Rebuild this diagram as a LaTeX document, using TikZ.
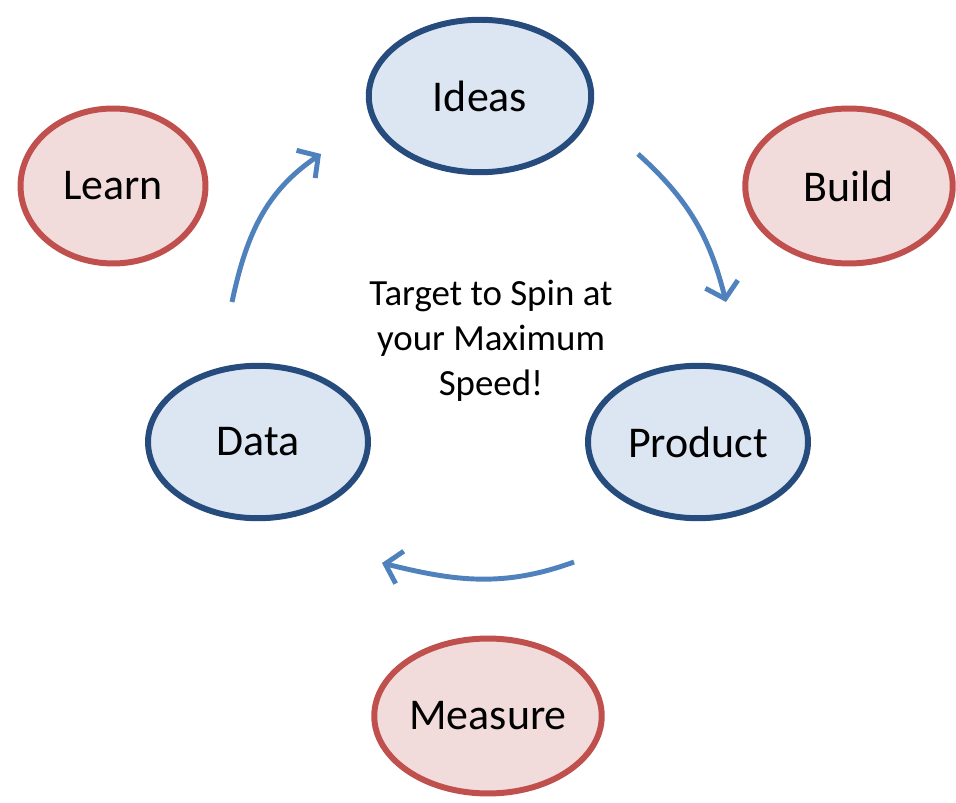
\documentclass[tikz,border=0pt]{standalone}
\usepackage{fontspec}
\setmainfont{Carlito}
\usetikzlibrary{shapes.geometric,arrows.meta}

\definecolor{coreFill}{RGB}{220,230,242}
\definecolor{coreLine}{RGB}{38,76,126}
\definecolor{loopFill}{RGB}{242,220,219}
\definecolor{loopLine}{RGB}{192,80,77}
\definecolor{spinBlue}{RGB}{79,129,189}

\tikzset{
    oval/.style={ellipse, line width=3.4pt, inner sep=0pt,
                 font=\fontsize{25}{30}\selectfont},
    coreoval/.style={oval, draw=coreLine, fill=coreFill},
    loopoval/.style={oval, draw=loopLine, fill=loopFill},
    spin/.style={draw=spinBlue, line width=2.8pt,
                 -{Straight Barb[length=8.5pt,width=19pt]}}
}

\begin{document}
\begin{tikzpicture}[x=0.02cm, y=-0.02cm]

    \useasboundingbox (0,0) rectangle (956,803);

    % the spinning loop
    \node[coreoval, minimum width=4.45cm, minimum height=3.05cm] (ideas) at (480,96) {Ideas};
    \node[coreoval, minimum width=4.4cm, minimum height=3.05cm] (product) at (698,442) {Product};
    \node[coreoval, minimum width=4.4cm, minimum height=3.05cm] (data) at (258,442) {Data};

    % the steps between
    \node[loopoval, minimum width=3.7cm, minimum height=3.1cm] (learn) at (113,186) {Learn};
    \node[loopoval, minimum width=4.15cm, minimum height=3.1cm] (build) at (849,186) {Build};
    \node[loopoval, minimum width=4.55cm, minimum height=3.1cm] (measure) at (488,716) {Measure};

    \node[align=center, font=\fontsize{21}{25.6}\selectfont] (target) at (491,341)
        {Target to Spin at\\your Maximum\\Speed!};

    % arrows
    \coordinate (upTail) at (232,302);
    \coordinate (upHead) at (321,154);
    \coordinate (downTail) at (638,154);
    \coordinate (downHead) at (726,302);
    \coordinate (backTail) at (574,562);
    \coordinate (backHead) at (382,563);

    \draw[spin] (upTail) to[out=78, in=214] (upHead);
    \draw[spin] (downTail) to[out=-42, in=104] (downHead);
    \draw[spin] (backTail) to[out=200, in=-14] (backHead);

\end{tikzpicture}
\end{document}
